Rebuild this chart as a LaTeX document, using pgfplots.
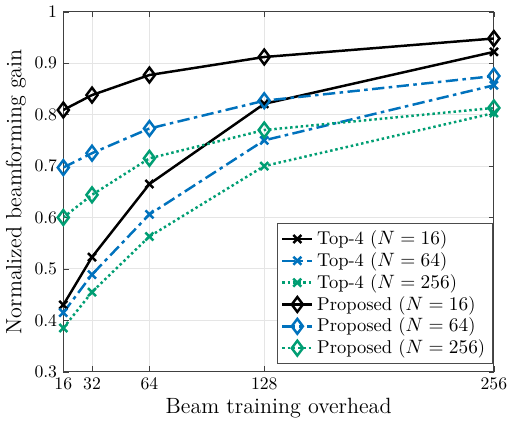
\documentclass[border=0pt]{standalone}
\usepackage{pgfplots}
\pgfplotsset{compat=1.18}
\definecolor{mblue}{RGB}{0,114,189}
\definecolor{mgreen}{RGB}{0,158,115}
\begin{document}
\begin{tikzpicture}
\begin{axis}[
    scale only axis,
    width=244pt, height=204pt,
    xmin=16, xmax=256, ymin=0.3, ymax=1,
    xtick={16,32,64,128,256},
    ytick={0.3,0.4,0.5,0.6,0.7,0.8,0.9,1},
    yticklabels={0.3,0.4,0.5,0.6,0.7,0.8,0.9,1},
    tick align=inside, tick pos=both,
    major tick length=3pt,
    grid=major, grid style={gray!20, line width=0.5pt},
    axis line style={black!75, line width=0.6pt},
    tick style={black!75},
    tick label style={font=\fontsize{10}{12}\selectfont},
    label style={font=\fontsize{12.5}{14}\selectfont},
    xlabel={Beam training overhead},
    ylabel={Normalized beamforming gain},
    xlabel style={yshift=2pt},
    ylabel style={yshift=-2pt},
    legend style={at={(0.997,0.022)}, anchor=south east, draw=black!70,
        font=\fontsize{10.5}{12}\selectfont, row sep=-1pt, inner sep=2pt},
    legend cell align=left,
    every axis plot/.append style={line width=1.4pt},
]
\addplot[black, mark=x, mark size=3.2pt, mark options={solid}] coordinates {
    (16,0.430) (32,0.523) (64,0.665) (128,0.821) (256,0.922)};
\addplot[mblue, dash pattern=on 7pt off 2.5pt on 2pt off 2.5pt, mark=x, mark size=3.2pt, mark options={solid}] coordinates {
    (16,0.415) (32,0.489) (64,0.606) (128,0.750) (256,0.857)};
\addplot[mgreen, dash pattern=on 1.4pt off 1.6pt, mark=x, mark size=3.2pt, mark options={solid}] coordinates {
    (16,0.385) (32,0.455) (64,0.563) (128,0.700) (256,0.803)};
\addplot[black, mark=diamond, mark size=4.2pt, mark options={solid}] coordinates {
    (16,0.809) (32,0.838) (64,0.877) (128,0.912) (256,0.948)};
\addplot[mblue, dash pattern=on 7pt off 2.5pt on 2pt off 2.5pt, mark=diamond, mark size=4.2pt, mark options={solid}] coordinates {
    (16,0.697) (32,0.725) (64,0.773) (128,0.827) (256,0.875)};
\addplot[mgreen, dash pattern=on 1.4pt off 1.6pt, mark=diamond, mark size=4.2pt, mark options={solid}] coordinates {
    (16,0.600) (32,0.644) (64,0.715) (128,0.770) (256,0.813)};
\legend{Top-4 ($N=16$), Top-4 ($N=64$), Top-4 ($N=256$),
    Proposed ($N=16$), Proposed ($N=64$), Proposed ($N=256$)}
\end{axis}
\end{tikzpicture}
\end{document}
